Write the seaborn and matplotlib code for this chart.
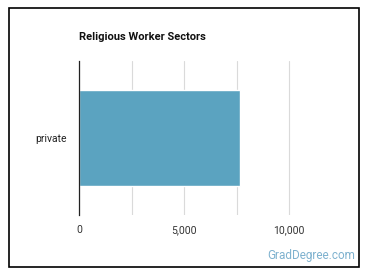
import matplotlib
matplotlib.use("Agg")
import matplotlib.pyplot as plt
import seaborn as sns
import pandas as pd
from matplotlib.patches import Rectangle
from matplotlib.ticker import FuncFormatter

categories = ["private"]
values = [7650]
title = "Religious Worker Sectors"
xticks = [0, 5000, 10000]

sns.set_style("white")
plt.rcParams['font.family'] = ['Roboto', 'DejaVu Sans']

fig = plt.figure(figsize=(3.7, 2.78), dpi=100)
ax = fig.add_axes([79.3/370, (278-215)/278, (341.5-79.3)/370, (215-61)/278])

df = pd.DataFrame({"sector": categories, "count": values})
sns.barplot(data=df, x="count", y="sector", orient="h", color="#5BA3C0",
            saturation=1, width=0.62, ax=ax, zorder=3)

ax.set_xlim(0, 12500)
ax.set_ylim(0.5, -0.5)
ax.set_xticks(xticks)
ax.set_xticks([2500, 7500], minor=True)
ax.xaxis.set_major_formatter(FuncFormatter(lambda v, p: f"{int(v):,}"))
ax.grid(axis="x", which="both", color="#dadada", linewidth=0.8, zorder=0)
ax.set_xlabel("")
ax.set_ylabel("")
for s in ["top", "right", "bottom"]:
    ax.spines[s].set_visible(False)
ax.spines["left"].set_color("#222222")
ax.spines["left"].set_linewidth(0.9)
ax.spines["left"].set_zorder(4)
ax.tick_params(axis="x", which="both", length=0, labelsize=7.5, colors="#333333", pad=7)
ax.tick_params(axis="y", length=0, labelsize=7.5, colors="#222222", pad=9)

fig.text(79/370, 1 - 37/278, title, fontsize=8, fontweight="bold",
         ha="left", va="center", color="#111111")
fig.text(355/370, 1 - 255/278, "GradDegree.com", fontsize=8.5,
         ha="right", va="center", color="#7fb2cf")

fig.patches.append(Rectangle((9/370, 11/278), 350/370, 259/278,
                             transform=fig.transFigure, fill=False,
                             edgecolor="black", linewidth=1.2))

fig.savefig("out.png", dpi=100)
